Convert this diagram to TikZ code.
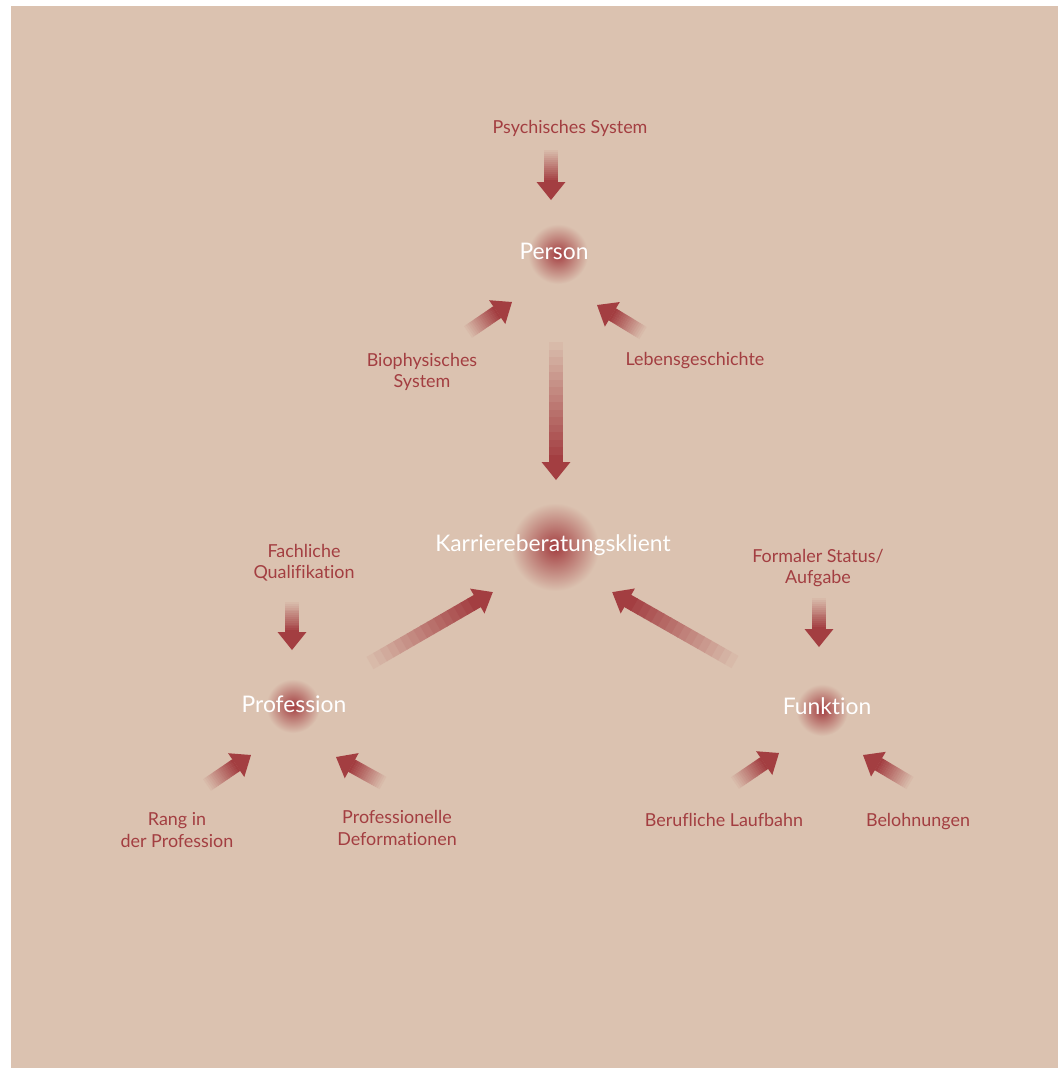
\documentclass[tikz,border=0pt]{standalone}
\usepackage{fontspec}
\setmainfont{Lato}[Ligatures=NoCommon]
\usepackage{tikz}
\usetikzlibrary{calc}
\definecolor{bgbeige}{RGB}{219,194,176}
\definecolor{arrowred}{RGB}{163,62,65}
\tikzset{
  label/.style={text=arrowred,font=\fontsize{10.2}{12}\selectfont,align=center},
  core/.style={text=white,font=\fontsize{13}{15}\selectfont},
}
% fading arrow from #1 (tail) to #2 (tip)
\newcommand\fadearrow[2]{%
  \path let \p1=($(#2)-(#1)$) in
    \pgfextra{\pgfmathsetmacro\arrang{atan2(\y1,\x1)}%
              \pgfmathsetmacro\arrlen{veclen(\x1,\y1)}%
              \global\let\arrang\arrang \global\let\arrlen\arrlen};
  \begin{scope}[shift={(#1)},rotate=\arrang]
    \pgfmathsetmacro\shaftlen{\arrlen-10.2}
    \foreach \k in {0,...,15}{
      \pgfmathtruncatemacro\pc{6+94*\k/15}
      \pgfmathsetmacro\xa{\k*\shaftlen/16}
      \pgfmathsetmacro\xb{(\k+1.1)*\shaftlen/16}
      \fill[arrowred!\pc!bgbeige] (\xa pt,-4pt) rectangle (\xb pt,4pt);
    }
    \fill[arrowred] (\shaftlen pt,-8.2pt) -- (\arrlen pt,0pt) -- (\shaftlen pt,8.2pt) -- cycle;
  \end{scope}}
\newcommand\glow[2]{%
  \shade[inner color=arrowred,outer color=bgbeige] (#1) circle (#2);}

\begin{document}
\begin{tikzpicture}[x=0.02cm,y=-0.02cm]
    \useasboundingbox (0,0) rectangle (1059,1069);
    \fill[bgbeige] (11,6) rectangle (1058,1068);

    % glows behind the four core nodes
    \glow{558,254}{30}
    \glow{555,547}{44}
    \glow{293,706}{27}
    \glow{822,710}{26}

    % core nodes
    \node[core] (person) at (554,251) {Person};
    \node[core] (klient) at (553,545) {Karriereberatungsklient};
    \node[core] (profession) at (294,704) {Profession};
    \node[core] (funktion) at (827,706) {Funktion};

    % influences
    \node[label] (psych) at (570,128) {Psychisches System};
    \node[label] (bio) at (422,372) {Biophysisches\\System};
    \node[label] (leben) at (695,361) {Lebensgeschichte};
    \node[label] (fach) at (304,563) {Fachliche\\Qualifikation};
    \node[label] (status) at (818,568) {Formaler Status/\\Aufgabe};
    \node[label] (rang) at (177,830) {Rang in\\der Profession};
    \node[label] (deform) at (397,828) {Professionelle\\Deformationen};
    \node[label] (laufbahn) at (724,820) {Berufliche Laufbahn};
    \node[label] (lohn) at (918,822) {Belohnungen};

    % arrow ends
    \coordinate (t1) at (551,150);  \coordinate (h1) at (551,200);
    \coordinate (t2) at (468,332);  \coordinate (h2) at (512,302);
    \coordinate (t3) at (643,333);  \coordinate (h3) at (597,305);
    \coordinate (t4) at (556,342);  \coordinate (h4) at (556,480);
    \coordinate (t5) at (292,602);  \coordinate (h5) at (292,650);
    \coordinate (t6) at (370,663);  \coordinate (h6) at (493,592);
    \coordinate (t7) at (819,598);  \coordinate (h7) at (819,647);
    \coordinate (t8) at (735,662);  \coordinate (h8) at (612,592);
    \coordinate (t9) at (207,785);  \coordinate (h9) at (251,755);
    \coordinate (t10) at (383,783); \coordinate (h10) at (336,757);
    \coordinate (t11) at (735,783); \coordinate (h11) at (779,753);
    \coordinate (t12) at (910,783); \coordinate (h12) at (863,755);

    \foreach \i in {1,...,12}
    {
     \fadearrow{t\i}{h\i}
    }

\end{tikzpicture}
\end{document}
